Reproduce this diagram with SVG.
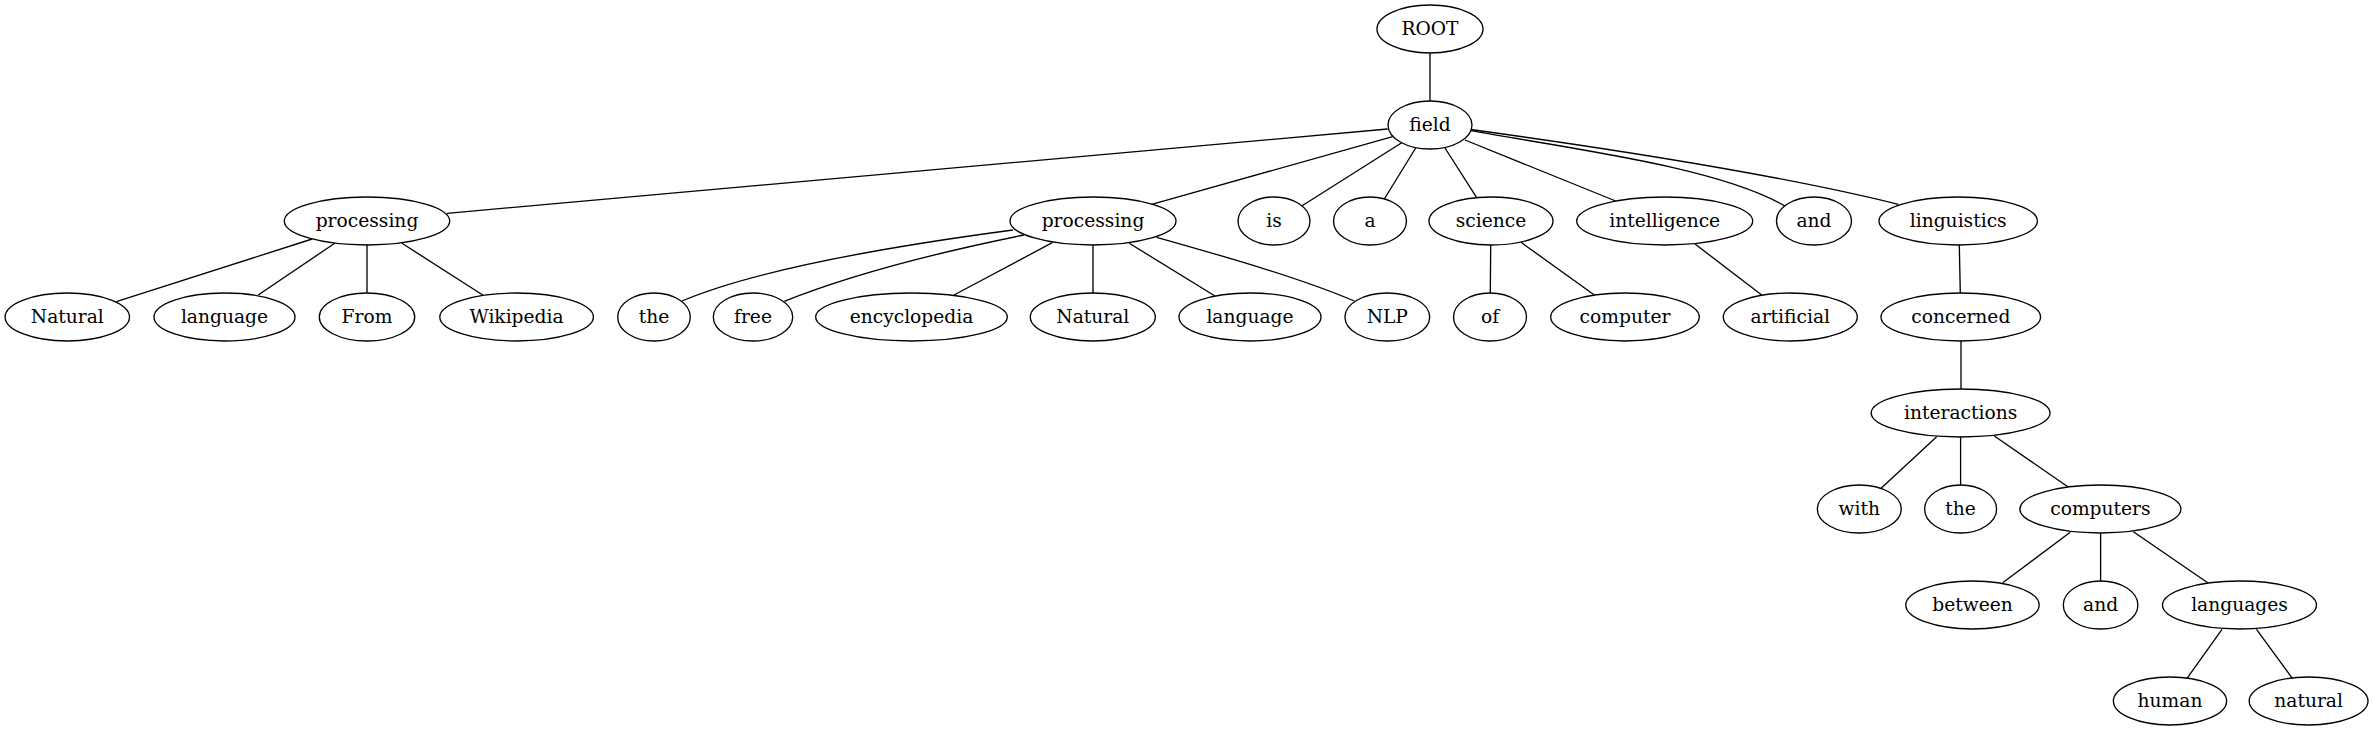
<svg xmlns="http://www.w3.org/2000/svg" width="2373" height="731" viewBox="0 0 2373 731">
<style>
.n ellipse{fill:none;stroke:#000;stroke-width:1.33}
.n text{font-family:"DejaVu Serif",serif;font-size:18.67px;text-anchor:middle;fill:#000}
#edges path{fill:none;stroke:#000;stroke-width:1.33}
</style>
<rect width="2373" height="731" fill="#fff"/>
<g id="edges">
<path d="M1430,53 L1430,101"/>
<path d="M1387.7,129 L447,213.3"/>
<path d="M1392.7,136.7 L1151.7,204.3"/>
<path d="M1401.7,142.7 L1301.7,206"/>
<path d="M1415.7,148 L1384.3,199"/>
<path d="M1445,148 L1476.7,197.7"/>
<path d="M1465,140 L1615.7,201"/>
<path d="M1470.7,130.7 C1580,150 1720,168 1785,206"/>
<path d="M1470.7,129.5 C1620,150 1780,175 1898.3,204.3"/>
<path d="M312.2,239 L116.3,301.7"/>
<path d="M334.7,243.3 L258.2,295"/>
<path d="M367,245 L367,293"/>
<path d="M402,243.3 L482.7,295"/>
<path d="M1013,230 C900,245 760,268 682,301"/>
<path d="M1024,235 C940,252 850,275 784.3,301.3"/>
<path d="M1052.3,242.7 L954,295"/>
<path d="M1093,245 L1093,293"/>
<path d="M1129.3,243.3 L1215,296"/>
<path d="M1156.7,237.3 C1230,258 1300,278 1354.3,301"/>
<path d="M1490.7,245 L1490.3,293"/>
<path d="M1521,242.3 L1594.3,295"/>
<path d="M1695,244 L1761.7,295"/>
<path d="M1959.3,245 L1960.3,293"/>
<path d="M1961,341 L1961,389"/>
<path d="M1936.7,436.7 L1881.1,488.3"/>
<path d="M1960.6,437 L1960.6,485"/>
<path d="M1994.3,436 L2067.8,486.7"/>
<path d="M2070.2,532.3 L2002.7,582.7"/>
<path d="M2100.6,533 L2100.6,581"/>
<path d="M2133.4,531.7 L2207.7,582.7"/>
<path d="M2222,629.3 L2187,678.3"/>
<path d="M2256.5,629.3 L2292.3,678.3"/>
</g>
<g id="ROOT" class="n"><ellipse cx="1430" cy="29" rx="53" ry="24"/><text x="1430" y="34.8">ROOT</text></g>
<g id="field" class="n"><ellipse cx="1430" cy="125" rx="42" ry="24"/><text x="1430" y="130.8">field</text></g>
<g id="processing1" class="n"><ellipse cx="367" cy="221" rx="82.7" ry="24"/><text x="367" y="226.8">processing</text></g>
<g id="processing2" class="n"><ellipse cx="1093" cy="221" rx="83" ry="24"/><text x="1093" y="226.8">processing</text></g>
<g id="is" class="n"><ellipse cx="1274" cy="221" rx="36" ry="24"/><text x="1274" y="226.8">is</text></g>
<g id="a" class="n"><ellipse cx="1370" cy="221" rx="36.5" ry="24"/><text x="1370" y="226.8">a</text></g>
<g id="science" class="n"><ellipse cx="1491" cy="221" rx="62" ry="24"/><text x="1491" y="226.8">science</text></g>
<g id="intelligence" class="n"><ellipse cx="1664.7" cy="221" rx="88" ry="24"/><text x="1664.7" y="226.8">intelligence</text></g>
<g id="and1" class="n"><ellipse cx="1814" cy="221" rx="37.5" ry="24"/><text x="1814" y="226.8">and</text></g>
<g id="linguistics" class="n"><ellipse cx="1958.2" cy="221" rx="79.2" ry="24"/><text x="1958.2" y="226.8">linguistics</text></g>
<g id="Natural1" class="n"><ellipse cx="67.3" cy="317" rx="62.2" ry="24"/><text x="67.3" y="322.8">Natural</text></g>
<g id="language1" class="n"><ellipse cx="224.5" cy="317" rx="70.5" ry="24"/><text x="224.5" y="322.8">language</text></g>
<g id="From" class="n"><ellipse cx="367" cy="317" rx="47.7" ry="24"/><text x="367" y="322.8">From</text></g>
<g id="Wikipedia" class="n"><ellipse cx="516.6" cy="317" rx="76.8" ry="24"/><text x="516.6" y="322.8">Wikipedia</text></g>
<g id="the1" class="n"><ellipse cx="654" cy="317" rx="36.3" ry="24"/><text x="654" y="322.8">the</text></g>
<g id="free" class="n"><ellipse cx="753" cy="317" rx="39.7" ry="24"/><text x="753" y="322.8">free</text></g>
<g id="encyclopedia" class="n"><ellipse cx="911.5" cy="317" rx="95.8" ry="24"/><text x="911.5" y="322.8">encyclopedia</text></g>
<g id="Natural2" class="n"><ellipse cx="1092.8" cy="317" rx="62.5" ry="24"/><text x="1092.8" y="322.8">Natural</text></g>
<g id="language2" class="n"><ellipse cx="1250" cy="317" rx="71" ry="24"/><text x="1250" y="322.8">language</text></g>
<g id="NLP" class="n"><ellipse cx="1387.3" cy="317" rx="42.4" ry="24"/><text x="1387.3" y="322.8">NLP</text></g>
<g id="of" class="n"><ellipse cx="1490" cy="317" rx="36.5" ry="24"/><text x="1490" y="322.8">of</text></g>
<g id="computer" class="n"><ellipse cx="1625" cy="317" rx="74.3" ry="24"/><text x="1625" y="322.8">computer</text></g>
<g id="artificial" class="n"><ellipse cx="1790.3" cy="317" rx="67" ry="24"/><text x="1790.3" y="322.8">artificial</text></g>
<g id="concerned" class="n"><ellipse cx="1960.8" cy="317" rx="79.8" ry="24"/><text x="1960.8" y="322.8">concerned</text></g>
<g id="interactions" class="n"><ellipse cx="1960.6" cy="413" rx="89.4" ry="24"/><text x="1960.6" y="418.8">interactions</text></g>
<g id="with" class="n"><ellipse cx="1859.3" cy="509" rx="42" ry="24"/><text x="1859.3" y="514.8">with</text></g>
<g id="the2" class="n"><ellipse cx="1960.6" cy="509" rx="36" ry="24"/><text x="1960.6" y="514.8">the</text></g>
<g id="computers" class="n"><ellipse cx="2100.4" cy="509" rx="80.5" ry="24"/><text x="2100.4" y="514.8">computers</text></g>
<g id="between" class="n"><ellipse cx="1972.5" cy="605" rx="66.7" ry="24"/><text x="1972.5" y="610.8">between</text></g>
<g id="and2" class="n"><ellipse cx="2100.6" cy="605" rx="37.3" ry="24"/><text x="2100.6" y="610.8">and</text></g>
<g id="languages" class="n"><ellipse cx="2239.5" cy="605" rx="77" ry="24"/><text x="2239.5" y="610.8">languages</text></g>
<g id="human" class="n"><ellipse cx="2170" cy="701" rx="56.6" ry="24"/><text x="2170" y="706.8">human</text></g>
<g id="natural" class="n"><ellipse cx="2308.6" cy="701" rx="59.4" ry="24"/><text x="2308.6" y="706.8">natural</text></g>
</svg>
